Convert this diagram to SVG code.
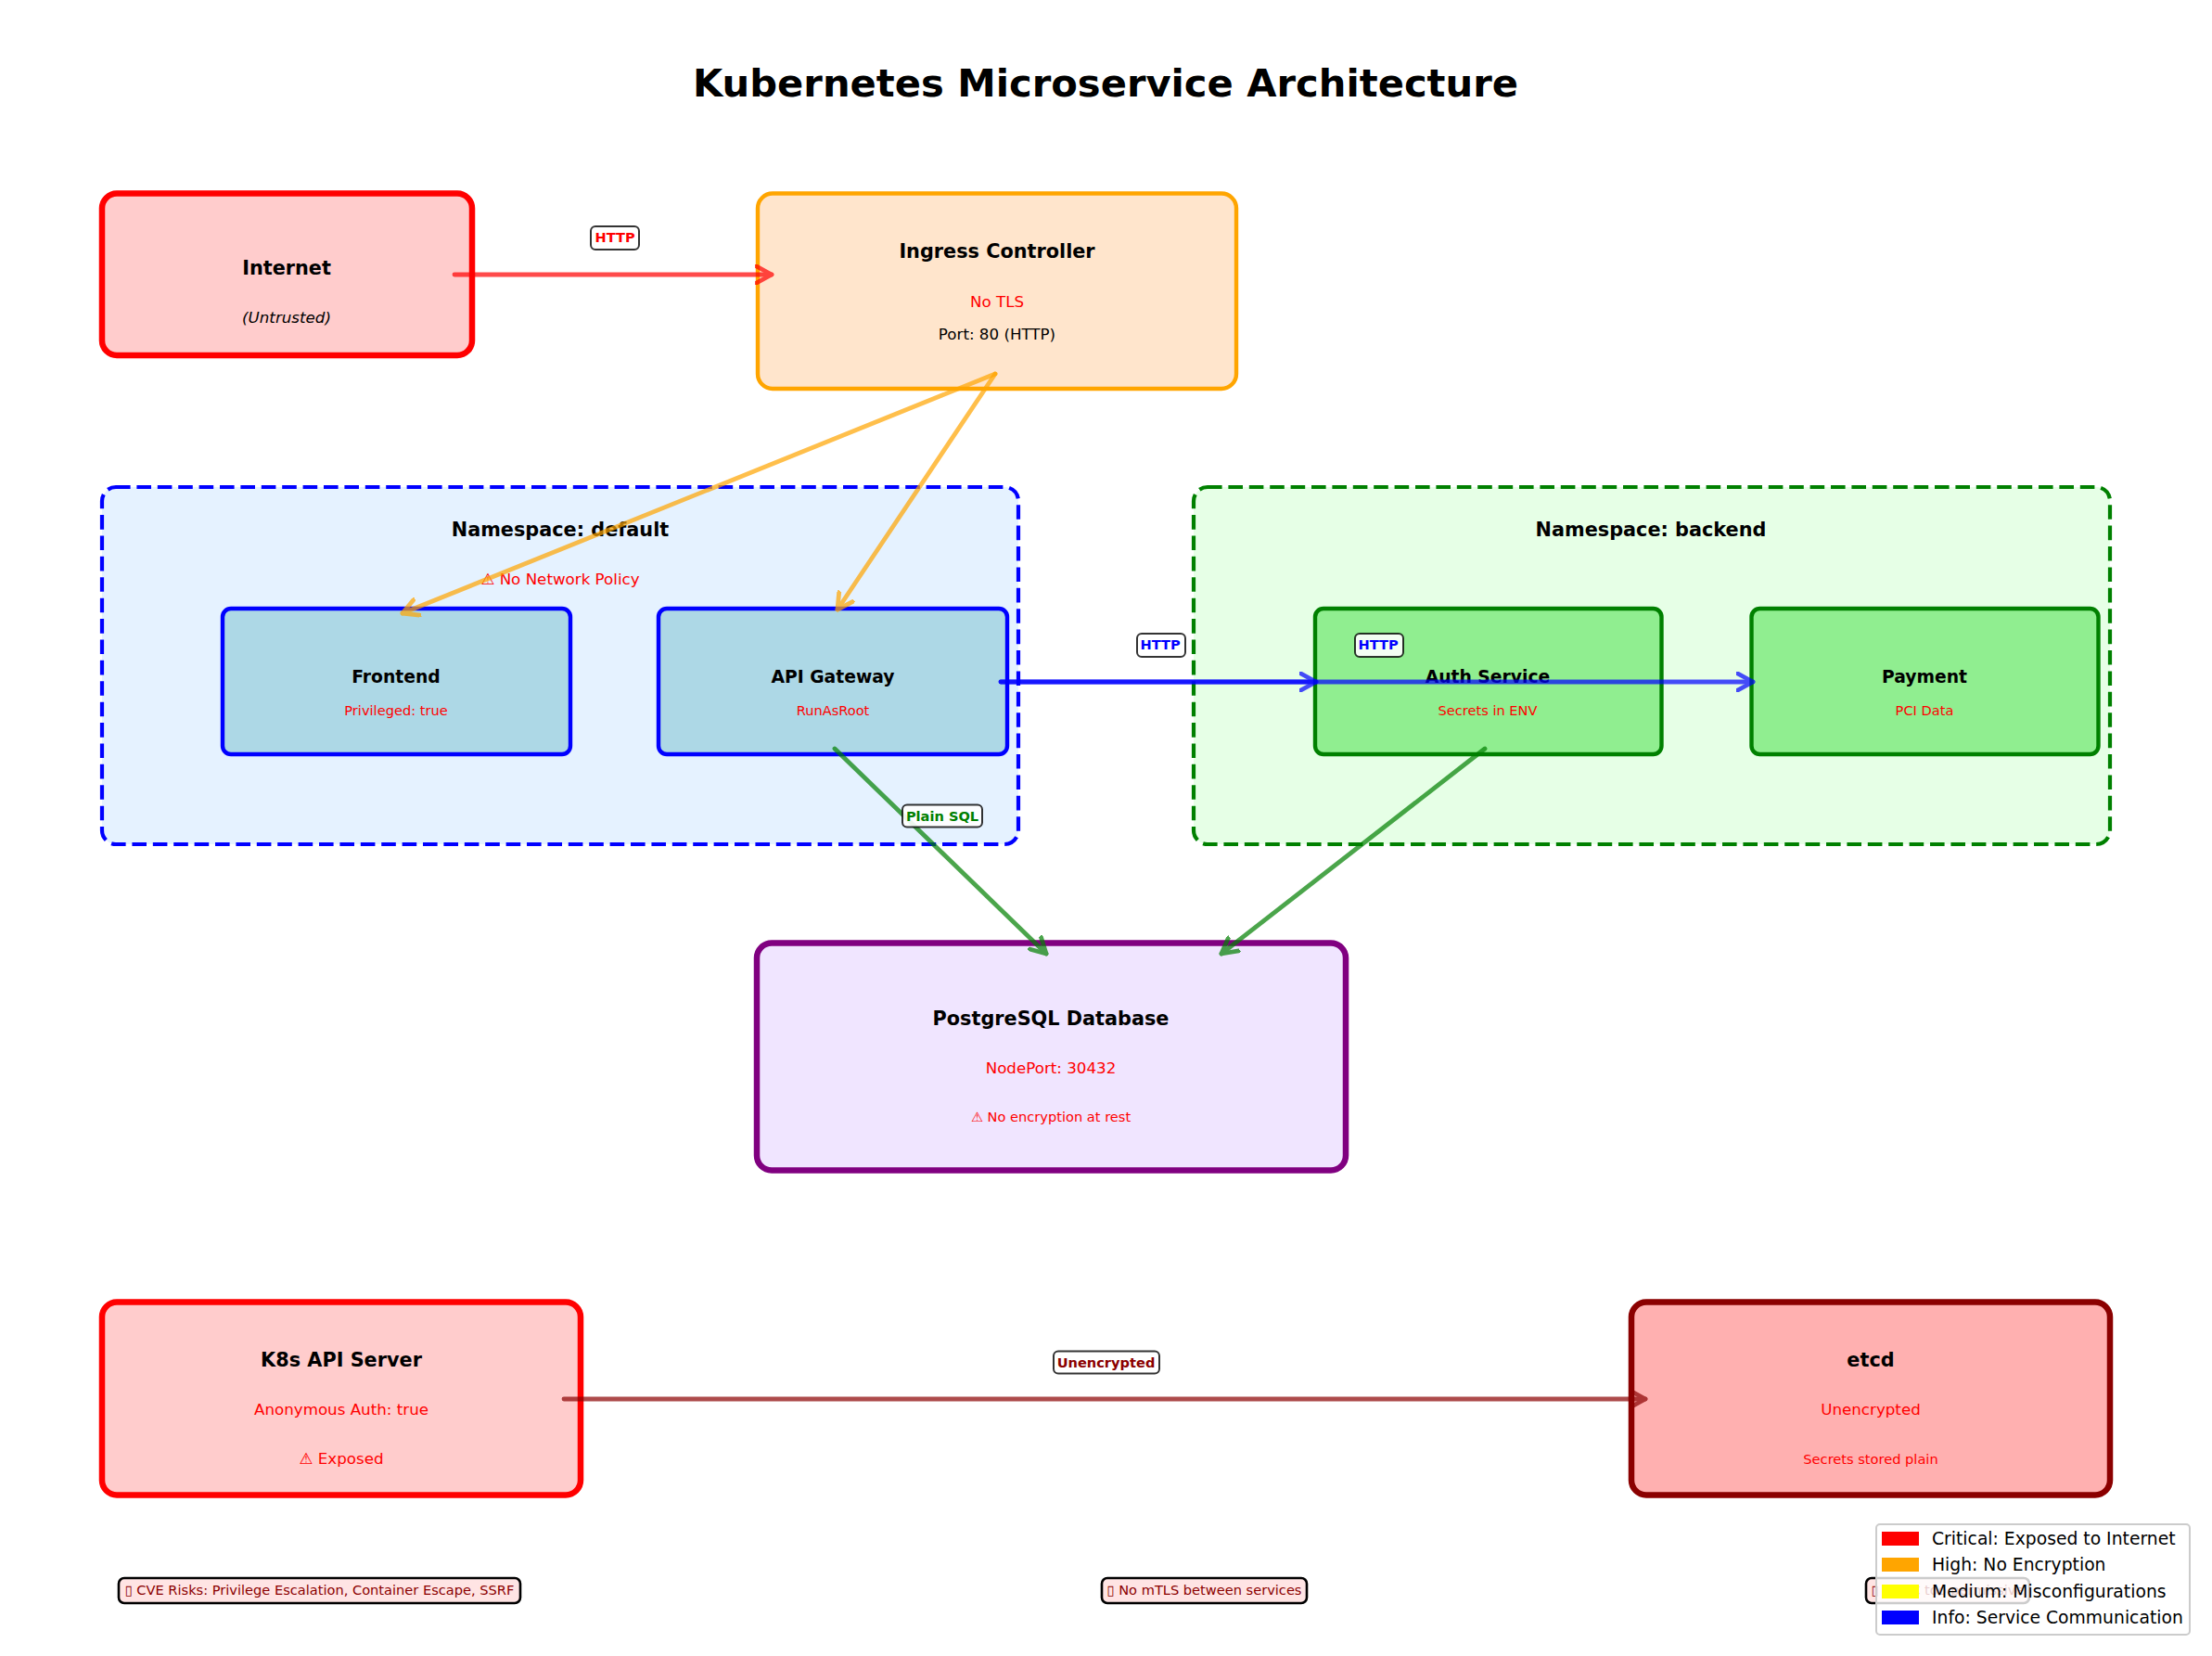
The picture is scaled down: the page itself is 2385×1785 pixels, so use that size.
<svg xmlns="http://www.w3.org/2000/svg" width="2385" height="1785" viewBox="0 0 2385 1785">
<defs>
<marker id="ar" viewBox="-18 -11 21 22" refX="0" refY="0" markerWidth="21" markerHeight="22" markerUnits="userSpaceOnUse" orient="auto"><path d="M-16.5-9L0 0L-16.5 9" fill="none" stroke="context-stroke" stroke-width="4.8" stroke-linecap="round" stroke-linejoin="round"/></marker>
</defs>
<style>
text{font-family:"DejaVu Sans",sans-serif;text-anchor:middle}
.t{font-weight:bold;font-size:20.8px;fill:#000}
.r{font-size:16.7px;fill:#f00}
.s{font-size:14.6px;fill:#f00}
.c{fill:none;stroke-width:4.8;stroke-linecap:round;opacity:.7;marker-end:url(#ar)}
.l{font-size:14.6px;font-weight:bold}
.lb{fill:#fff;fill-opacity:.9;stroke:#000;stroke-opacity:.8;stroke-width:2;rx:5px}
.wb{fill:#ffe4e4;stroke:#000;stroke-width:2.6;rx:6px}
.w{font-size:14.6px;fill:#8b0000}
.lg{font-size:18.75px;text-anchor:start;fill:#000}
</style>
<rect width="2385" height="1785" fill="#fff"/>
<text x="1192" y="104" style="font-size:41.67px;font-weight:bold">Kubernetes Microservice Architecture</text>
<g id="ns-default"><rect x="110" y="525" width="988" height="385" rx="15" fill="#e5f2ff" stroke="#00f" stroke-width="4.2" stroke-dasharray="15.6 6.8"/><text class="t" x="604" y="578">Namespace: default</text><text class="r" x="604" y="630">⚠ No Network Policy</text></g>
<g id="ns-backend"><rect x="1287" y="525" width="988" height="385" rx="15" fill="#e6ffe6" stroke="#008000" stroke-width="4.2" stroke-dasharray="15.6 6.8"/><text class="t" x="1780" y="578">Namespace: backend</text></g>
<g id="internet"><rect x="110" y="208.500" width="399" height="174.500" rx="16" fill="#ffcccc" stroke="#f00" stroke-width="6.5"/><text class="t" x="309" y="296">Internet</text><text x="309" y="348" style="font-size:16.7px;font-style:italic">(Untrusted)</text></g>
<g id="ingress"><rect x="817" y="208.500" width="516" height="210.500" rx="16" fill="#ffe5cc" stroke="#ffa500" stroke-width="4.4"/><text class="t" x="1075" y="278">Ingress Controller</text><text class="r" x="1075" y="331">No TLS</text><text x="1075" y="366" style="font-size:16.700px">Port: 80 (HTTP)</text></g>
<g id="frontend"><rect x="240" y="656" width="375" height="157" rx="9" fill="#add8e6" stroke="#00f" stroke-width="4.4"/><text class="t" style="font-size:18.75px" x="427" y="736">Frontend</text><text class="s" x="427" y="771">Privileged: true</text></g>
<g id="api-gateway"><rect x="710" y="656" width="376" height="157" rx="9" fill="#add8e6" stroke="#00f" stroke-width="4.4"/><text class="t" style="font-size:18.75px" x="898" y="736">API Gateway</text><text class="s" x="898" y="771">RunAsRoot</text></g>
<g id="auth"><rect x="1418" y="656" width="373.500" height="157" rx="9" fill="#90ee90" stroke="#008000" stroke-width="4.4"/><text class="t" style="font-size:18.75px" x="1604" y="736">Auth Service</text><text class="s" x="1604" y="771">Secrets in ENV</text></g>
<g id="payment"><rect x="1888.500" y="656" width="374" height="157" rx="9" fill="#90ee90" stroke="#008000" stroke-width="4.4"/><text class="t" style="font-size:18.75px" x="2075" y="736">Payment</text><text class="s" x="2075" y="771">PCI Data</text></g>
<g id="postgres"><rect x="816" y="1016.500" width="635" height="245" rx="16" fill="#f0e5ff" stroke="#800080" stroke-width="6.5"/><text class="t" x="1133" y="1104.500">PostgreSQL Database</text><text class="r" x="1133" y="1157">NodePort: 30432</text><text class="s" x="1133" y="1209">⚠ No encryption at rest</text></g>
<g id="k8s-api"><rect x="110" y="1403.500" width="516" height="208" rx="16" fill="#ffcccc" stroke="#f00" stroke-width="6.5"/><text class="t" x="368" y="1472.500">K8s API Server</text><text class="r" x="368" y="1524.500">Anonymous Auth: true</text><text class="r" x="368" y="1577.500">⚠ Exposed</text></g>
<g id="etcd"><rect x="1759" y="1403.500" width="516" height="208" rx="16" fill="#ffb0b0" stroke="#8b0000" stroke-width="6.5"/><text class="t" x="2017" y="1472.500">etcd</text><text class="r" x="2017" y="1524.500">Unencrypted</text><text class="s" x="2017" y="1577.500">Secrets stored plain</text></g>
<g id="connectors">
<line class="c" x1="490" y1="296" x2="832" y2="296" stroke="#f00"/>
<line class="c" x1="1073" y1="403" x2="434" y2="661" stroke="#ffa500"/>
<line class="c" x1="1073" y1="403" x2="903" y2="657" stroke="#ffa500"/>
<line class="c" x1="1079" y1="735" x2="1419" y2="735" stroke="#00f"/>
<line class="c" x1="1079" y1="735" x2="1890" y2="735" stroke="#00f"/>
<line class="c" x1="900" y1="807" x2="1128" y2="1028" stroke="#008000"/>
<line class="c" x1="1601" y1="807" x2="1317" y2="1028" stroke="#008000"/>
<line class="c" x1="608" y1="1508" x2="1774" y2="1508" stroke="#8b0000"/>
</g>
<g id="labels">
<rect class="lb" x="637" y="244" width="52" height="25"/><text class="l" fill="#f00" x="663" y="261">HTTP</text>
<rect class="lb" x="1226" y="683" width="52" height="25"/><text class="l" fill="#00f" x="1251" y="700">HTTP</text>
<rect class="lb" x="1461" y="683" width="52" height="25"/><text class="l" fill="#00f" x="1486" y="700">HTTP</text>
<rect class="lb" x="973" y="867.500" width="86" height="24"/><text class="l" fill="#008000" x="1016" y="884.500">Plain SQL</text>
<rect class="lb" x="1136" y="1456.500" width="114" height="24"/><text class="l" fill="#8b0000" x="1192.500" y="1473.500">Unencrypted</text>
</g>
<g id="warnings">
<rect class="wb" x="128" y="1701" width="433" height="27"/><text class="w" x="344.500" y="1719">▯ CVE Risks: Privilege Escalation, Container Escape, SSRF</text>
<rect class="wb" x="1188" y="1701" width="221" height="27"/><text class="w" x="1298.500" y="1719">▯ No mTLS between services</text>
<rect class="wb" x="2012" y="1701" width="176" height="27"/><text class="w" x="2100" y="1719">▯ RBAC too permissive</text>
</g>
<g id="legend">
<rect x="2023" y="1643" width="338" height="119" rx="4" fill="#fff" fill-opacity=".8" stroke="#ccc" stroke-width="2"/>
<rect x="2029" y="1651" width="40" height="15" fill="#f00"/><text class="lg" x="2083" y="1664.500">Critical: Exposed to Internet</text>
<rect x="2029" y="1679" width="40" height="15" fill="#ffa500"/><text class="lg" x="2083" y="1693">High: No Encryption</text>
<rect x="2029" y="1708" width="40" height="15" fill="#ff0"/><text class="lg" x="2083" y="1722">Medium: Misconfigurations</text>
<rect x="2029" y="1736" width="40" height="15" fill="#00f"/><text class="lg" x="2083" y="1750">Info: Service Communication</text>
</g>
</svg>
